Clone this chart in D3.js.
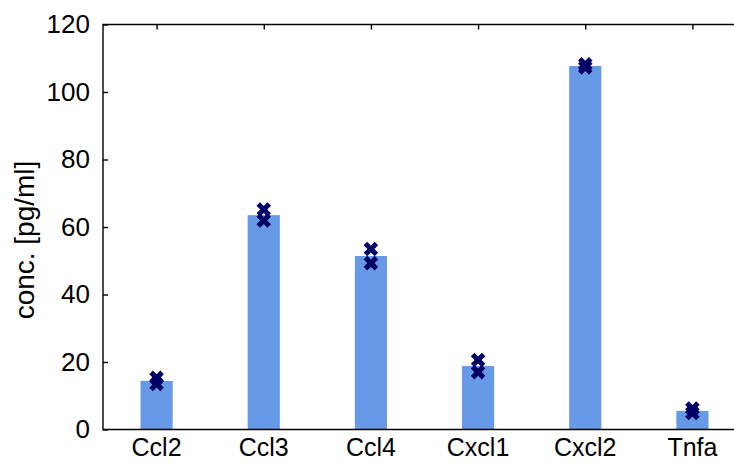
<!DOCTYPE html>
<html>
<head>
<meta charset="utf-8">
<script src="https://cdn.jsdelivr.net/npm/d3@7"></script>
<style>
  body { margin: 0; background: #fff; }
  svg { display: block; font-family: "Liberation Sans", Arial, sans-serif; }
</style>
</head>
<body>
<svg id="canvas" width="734" height="463"></svg>
<script>
// data
let genes = ["Ccl2", "Ccl3", "Ccl4", "Cxcl1", "Cxcl2", "Tnfa"];
let means = [14.4, 63.5, 51.4, 18.8, 107.7, 5.5];
let rep1 = [15.3, 65.2, 53.5, 20.6, 108.2, 6.2];
let rep2 = [13.5, 61.9, 49.3, 17.0, 107.3, 4.9];
let yTicks = [0, 20, 40, 60, 80, 100, 120];

let plotLeft = 103, plotTop = 24.5, plotRight = 746, plotBottom = 429.5;

let canvas = d3.select("#canvas");

// xlim [0.5, 6.5] like the original, right edge falls off the page
let x = d3.scaleLinear().domain([0.5, 6.5]).range([plotLeft, plotRight]);
let y = d3.scaleLinear().domain([0, 120]).range([plotBottom, plotTop]);
let barW = (x(2) - x(1)) * 0.3;

// bars
canvas.selectAll("rect.bar")
  .data(means)
  .enter()
  .append("rect")
  .attr("class", "bar")
  .attr("x", (d, i) => x(i + 1) - barW / 2)
  .attr("y", (d) => y(d))
  .attr("width", barW)
  .attr("height", (d) => y(0) - y(d))
  .attr("fill", "#6699e6");

// replicate markers (x)
let points = [];
genes.forEach((g, i) => {
  points.push({ i: i, v: rep1[i] });
  points.push({ i: i, v: rep2[i] });
});
let s = 5.5;
canvas.selectAll("path.mark")
  .data(points)
  .enter()
  .append("path")
  .attr("class", "mark")
  .attr("d", (p) => {
    let cx = x(p.i + 1), cy = y(p.v);
    return "M" + (cx - s) + "," + (cy - s) + "L" + (cx + s) + "," + (cy + s) +
      "M" + (cx - s) + "," + (cy + s) + "L" + (cx + s) + "," + (cy - s);
  })
  .attr("stroke", "#000066")
  .attr("stroke-width", 5)
  .attr("fill", "none");

// frame: left, top, bottom
canvas.append("path")
  .attr("d", "M" + plotRight + "," + plotTop + "H" + plotLeft + "V" + plotBottom + "H" + plotRight)
  .attr("fill", "none")
  .attr("stroke", "#000")
  .attr("stroke-width", 1.4);

// y axis (ticks inward)
let yAxis = d3.axisLeft(y).tickValues(yTicks).tickSizeInner(-5).tickSizeOuter(0).tickPadding(13);
let gy = canvas.append("g").attr("transform", "translate(" + plotLeft + ",0)").call(yAxis);
gy.attr("font-family", null).attr("font-size", null);
gy.select(".domain").remove();
gy.selectAll("line").attr("stroke-width", 1.4);
gy.selectAll("text").attr("font-size", 26).attr("fill", "#000");

// x top ticks (inward)
let xTop = d3.axisTop(x).tickValues(d3.range(1, 7)).tickSizeInner(-5).tickSizeOuter(0).tickFormat("");
let gt = canvas.append("g").attr("transform", "translate(0," + plotTop + ")").call(xTop);
gt.select(".domain").remove();
gt.selectAll("line").attr("stroke-width", 1.4);

// x labels
canvas.selectAll("text.gene")
  .data(genes)
  .enter()
  .append("text")
  .attr("class", "gene")
  .attr("x", (d, i) => x(i + 1))
  .attr("y", 456)
  .attr("text-anchor", "middle")
  .attr("font-size", 25)
  .text((d) => d);

// y label
canvas.append("text")
  .attr("transform", "translate(34,240) rotate(-90)")
  .attr("text-anchor", "middle")
  .attr("font-size", 28)
  .text("conc. [pg/ml]");
</script>
</body>
</html>
